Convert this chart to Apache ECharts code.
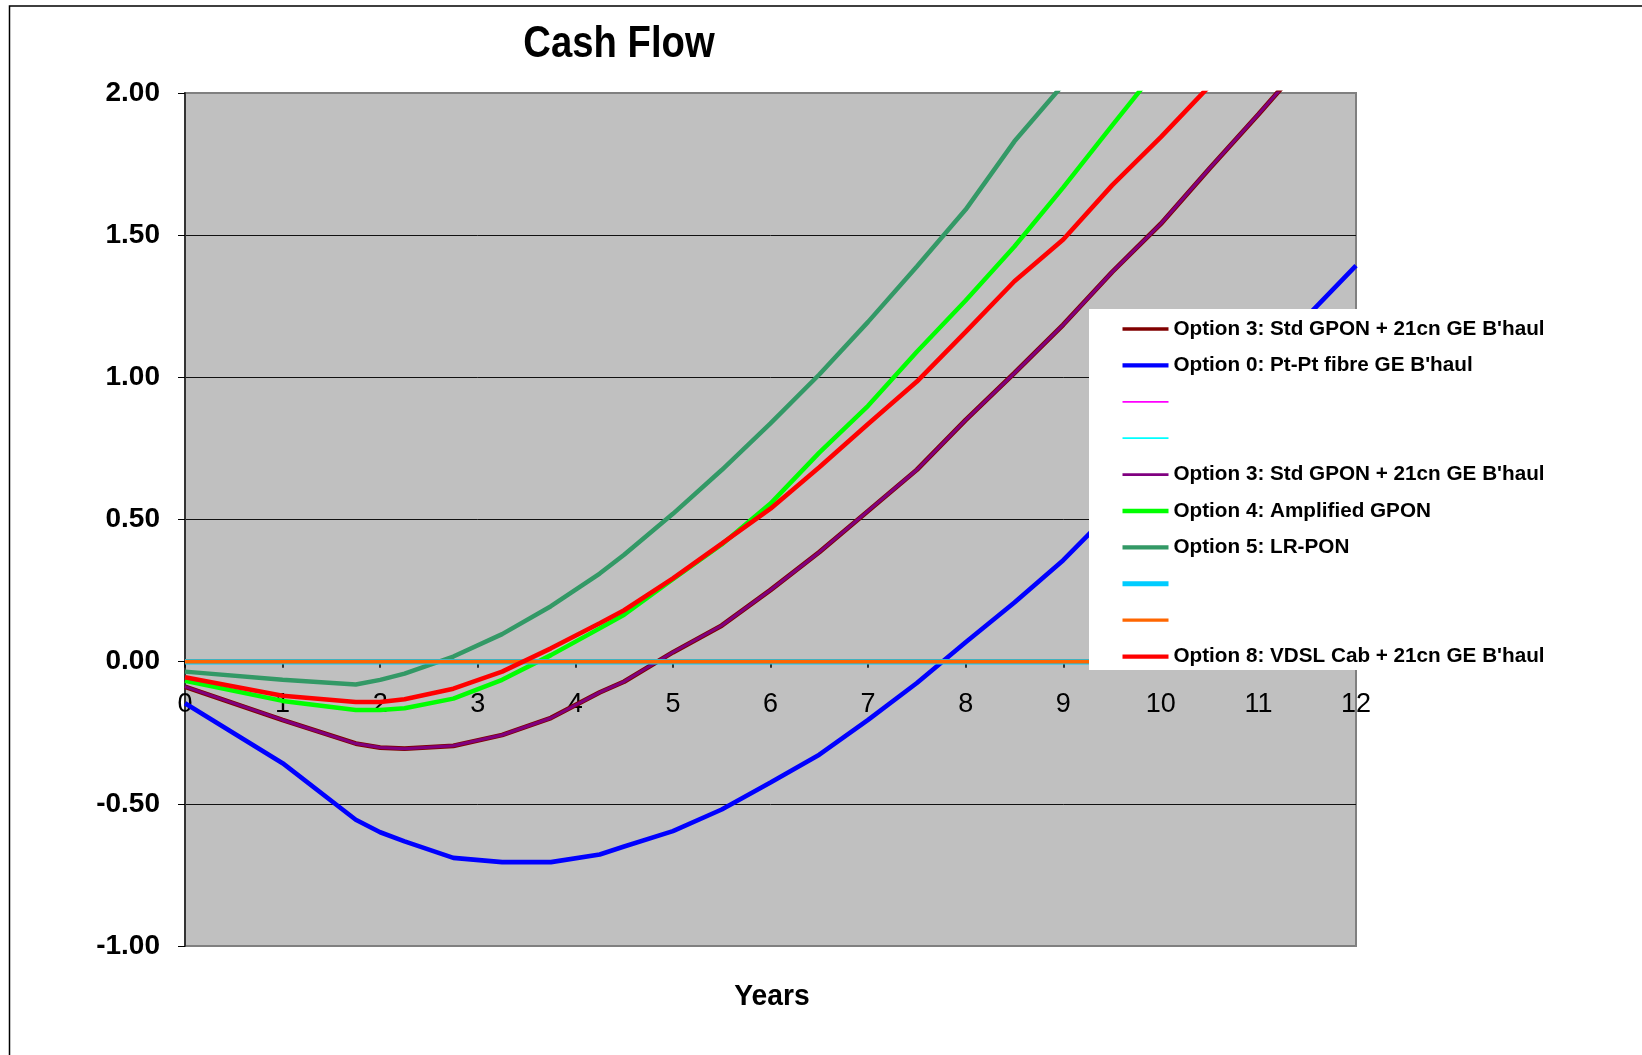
<!DOCTYPE html>
<html>
<head>
<meta charset="utf-8">
<script src="https://cdn.jsdelivr.net/npm/echarts@6/dist/echarts.min.js"></script>
<style>
html,body{margin:0;padding:0;background:#fff;}
#chart{width:1642px;height:1055px;}
</style>
</head>
<body>
<div id="chart"></div>
<script>
const years = [0, 1, 1.75, 2, 2.25, 2.75, 3.25, 3.75, 4.25, 4.5, 5, 5.5, 6, 6.5, 7, 7.5, 8, 8.5, 9, 9.5, 10, 10.5, 11, 11.5, 12];
const option3 = [-0.088, -0.205, -0.288, -0.302, -0.306, -0.296, -0.258, -0.198, -0.108, -0.07, 0.033, 0.127, 0.252, 0.385, 0.53, 0.675, 0.85, 1.015, 1.185, 1.37, 1.54, 1.735, 1.925, 2.12, 2.31];
const option0 = [-0.146, -0.357, -0.556, -0.60, -0.632, -0.69, -0.705, -0.705, -0.678, -0.65, -0.596, -0.52, -0.425, -0.327, -0.205, -0.075, 0.068, 0.208, 0.357, 0.53, 0.695, 0.865, 1.04, 1.215, 1.393];
const option4 = [-0.067, -0.138, -0.17, -0.17, -0.164, -0.13, -0.064, 0.023, 0.117, 0.165, 0.29, 0.412, 0.556, 0.735, 0.90, 1.09, 1.27, 1.46, 1.668, 1.885, 2.1, 2.32, 2.55, 2.78, 3.0];
const option5 = [-0.035, -0.064, -0.08, -0.064, -0.042, 0.018, 0.097, 0.195, 0.31, 0.376, 0.52, 0.674, 0.838, 1.01, 1.195, 1.39, 1.59, 1.83, 2.03, 2.25, 2.47, 2.7, 2.93, 3.16, 3.4];
const option8 = [-0.055, -0.12, -0.142, -0.142, -0.132, -0.095, -0.035, 0.047, 0.135, 0.181, 0.293, 0.415, 0.538, 0.684, 0.836, 0.985, 1.16, 1.338, 1.485, 1.675, 1.845, 2.025, 2.21, 2.39, 2.57];
const zeroLine = [0, 0, 0, 0, 0, 0, 0, 0, 0, 0, 0, 0, 0, 0, 0, 0, 0, 0, 0, 0, 0, 0, 0, 0, 0];
const seriesNames = [
  "Option 3: Std GPON + 21cn GE B'haul",
  "Option 0: Pt-Pt fibre GE B'haul",
  " ",
  "  ",
  "Option 3: Std GPON + 21cn GE B'haul ",
  "Option 4: Amplified GPON",
  "Option 5: LR-PON",
  "   ",
  "    ",
  "Option 8: VDSL Cab + 21cn GE B'haul"
];
const yTicks = [-1, -0.5, 0, 0.5, 1, 1.5, 2];
const titleText = "Cash Flow";
const xTitle = "Years";

const seriesValues = [option3, option0, zeroLine, zeroLine, option3, option4, option5, zeroLine, zeroLine, option8];
const colors = ['#800000', '#0000FF', '#FF00FF', '#00FFFF', '#800080', '#00FF00', '#339966', '#00CCFF', '#FF6600', '#FF0000'];
const widths = [4.8, 4.6, 1.8, 1.8, 3, 4.5, 4.5, 5.5, 3.8, 4.6];
const legendWidths = [3.6, 4.3, 1.8, 1.8, 2.9, 4.3, 4.3, 5, 3.2, 4.3];

const FONT = "'Liberation Sans', Arial, Helvetica, sans-serif";

const gridTop = 93, gridHeight = 853;
const yMin = yTicks[0], yMax = yTicks[yTicks.length - 1];
const zeroOffset = -gridHeight * (0 - yMin) / (yMax - yMin);

const chart = echarts.init(document.getElementById('chart'), null, {renderer: 'canvas'});
chart.setOption({
  animation: false,
  backgroundColor: '#fff',
  grid: {left: 185, top: gridTop, width: 1171, height: gridHeight, show: true, backgroundColor: '#c0c0c0', borderColor: '#808080', borderWidth: 2},
  xAxis: {
    type: 'value', min: 0, max: 12, interval: 1,
    position: 'bottom', offset: zeroOffset,
    axisLine: {onZero: false, lineStyle: {color: '#000', width: 1}},
    axisTick: {show: true, length: 6, lineStyle: {color: '#000', width: 1.5}},
    axisLabel: {margin: 29, fontSize: 27, color: '#000', fontFamily: FONT},
    splitLine: {show: false}
  },
  yAxis: {
    type: 'value', min: yMin, max: yMax, interval: 0.5,
    axisLine: {show: true, onZero: false, lineStyle: {color: '#333', width: 2}},
    axisTick: {show: true, length: 7, lineStyle: {color: '#000', width: 1}},
    axisLabel: {margin: 25, fontSize: 28, fontWeight: 'bold', color: '#000', fontFamily: FONT, formatter: v => v.toFixed(2)},
    splitLine: {show: true, showMinLine: false, showMaxLine: false, lineStyle: {color: '#111', width: 1}}
  },
  legend: {
    orient: 'vertical', left: 1120, top: 318, padding: 0,
    itemWidth: 46, itemHeight: 14, itemGap: 14.4, selectedMode: false,
    itemStyle: {opacity: 0, borderWidth: 0},
    data: seriesNames.map((n, i) => ({name: n, lineStyle: {width: legendWidths[i], color: colors[i]}, itemStyle: {opacity: 0, borderWidth: 0}})),
    textStyle: {fontSize: 20.7, fontWeight: 'bold', color: '#000', lineHeight: 22, fontFamily: FONT},
    z: 6
  },
  graphic: [
    {type: 'rect', z: 0, silent: true, shape: {x: 9.5, y: 6, width: 1700, height: 1100}, style: {fill: 'none', stroke: '#000', lineWidth: 1.5}},
    {type: 'rect', z: 5, silent: true, shape: {x: 1089, y: 309, width: 600, height: 361}, style: {fill: '#fff'}},
    {type: 'text', z: 6, x: 619, y: 45, scaleX: 0.85, style: {text: titleText, font: "bold 45px " + FONT, fill: '#000', align: 'center', verticalAlign: 'middle'}},
    {type: 'text', z: 6, x: 772, y: 997, scaleX: 0.94, style: {text: xTitle, font: "bold 30px " + FONT, fill: '#000', align: 'center', verticalAlign: 'middle'}}
  ],
  series: seriesNames.map((name, i) => ({
    name: name,
    type: 'line',
    symbol: 'none',
    clip: true,
    z: 2,
    lineStyle: {color: colors[i], width: widths[i]},
    itemStyle: {color: colors[i]},
    data: years.map((x, j) => [x, seriesValues[i][j]])
  }))
});
</script>
</body>
</html>
